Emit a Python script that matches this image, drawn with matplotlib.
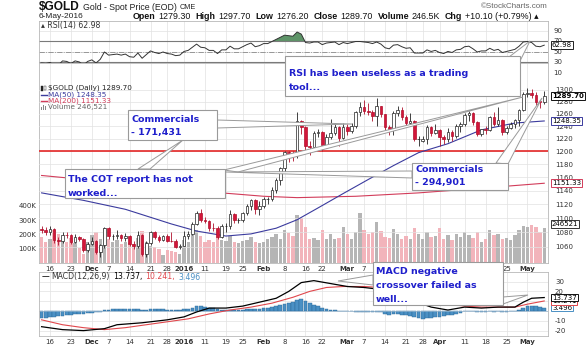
import matplotlib
matplotlib.use("Agg")
import matplotlib.pyplot as plt
from matplotlib.patches import Rectangle, Polygon
from matplotlib.lines import Line2D
from matplotlib.ticker import NullLocator
import numpy as np
import pandas as pd

# ---- data: $GOLD daily, 12-Nov-2015 .. 6-May-2016 ----
holidays = ["2015-11-26", "2015-12-25", "2016-01-01", "2016-01-18", "2016-02-15", "2016-03-25"]

opens = [1084.5, 1083.6, 1081.0, 1084.4, 1069.2, 1068.4, 1077.0, 1076.2, 1067.1, 1073.9, 1070.7, 1056.2,
         1064.6, 1068.0, 1053.4, 1061.9, 1085.6, 1074.6, 1075.2, 1076.0, 1071.6, 1075.5, 1063.9, 1061.7,
         1076.2, 1049.6, 1065.0, 1080.2, 1074.3, 1069.8, 1075.6, 1068.6, 1068.0, 1060.4,
         1061.1, 1075.0, 1078.3, 1091.7, 1108.1, 1097.9, 1096.3, 1086.5, 1085.7, 1073.4, 1088.9, 1089.0,
         1106.4, 1097.1, 1097.2, 1107.6, 1118.3, 1126.1, 1113.0,
         1117.5, 1128.2, 1128.3, 1141.1, 1155.9, 1173.6, 1198.8, 1197.4, 1193.6, 1247.9, 1239.2, 1208.9,
         1207.4, 1229.7, 1230.3, 1209.6, 1223.2, 1228.5, 1238.6, 1221.4,
         1238.0, 1231.5, 1241.0, 1262.2, 1270.7, 1265.4, 1263.5, 1256.4, 1272.5, 1259.5, 1238.6, 1233.5,
         1261.6, 1266.4, 1255.5, 1244.7, 1248.3, 1219.7, 1217.0, 1220.0, 1238.8, 1228.4,
         1233.5, 1222.4, 1218.8, 1230.8, 1224.8, 1240.1, 1243.6, 1258.4, 1261.7, 1246.4, 1227.4, 1236.0,
         1234.0, 1254.5, 1242.9, 1250.0, 1230.9, 1237.4, 1243.8, 1250.0, 1266.0,
         1293.5, 1294.5, 1290.8, 1281.0, 1279.3]
highs = [1089.0, 1088.0, 1089.5, 1086.0, 1073.5, 1081.0, 1080.0, 1078.0, 1077.5, 1075.5, 1072.0, 1066.5,
         1074.0, 1070.0, 1064.5, 1088.0, 1087.0, 1078.5, 1084.0, 1078.5, 1079.5, 1076.5, 1068.0, 1081.5,
         1077.5, 1068.0, 1082.5, 1081.5, 1077.0, 1077.0, 1078.0, 1080.0, 1071.5, 1064.5,
         1082.0, 1081.5, 1095.0, 1111.0, 1113.0, 1101.5, 1098.0, 1093.5, 1089.0, 1092.0, 1093.0, 1111.5,
         1107.5, 1101.0, 1109.5, 1121.0, 1128.0, 1127.5, 1124.5,
         1130.5, 1131.5, 1145.0, 1159.5, 1175.5, 1200.5, 1200.5, 1200.0, 1263.5, 1250.5, 1240.5, 1216.5,
         1232.5, 1236.0, 1231.5, 1228.0, 1251.0, 1243.5, 1241.0, 1245.0,
         1244.0, 1245.5, 1264.5, 1279.5, 1282.5, 1277.5, 1266.5, 1287.0, 1273.5, 1260.5, 1242.5, 1264.5,
         1273.5, 1271.0, 1257.5, 1261.0, 1250.0, 1223.5, 1225.0, 1242.0, 1240.0, 1243.5,
         1236.0, 1225.5, 1236.5, 1233.5, 1244.0, 1246.0, 1261.0, 1264.0, 1262.5, 1247.5, 1236.0, 1239.5,
         1256.5, 1262.5, 1270.5, 1251.5, 1240.0, 1246.0, 1251.5, 1268.5, 1296.0,
         1303.5, 1302.0, 1295.5, 1283.5, 1297.7]
lows = [1079.5, 1076.0, 1077.0, 1066.0, 1062.5, 1066.0, 1072.0, 1063.5, 1065.5, 1068.0, 1052.5, 1053.0,
        1062.5, 1050.5, 1046.5, 1059.0, 1071.0, 1069.5, 1071.0, 1067.5, 1068.5, 1061.5, 1057.5, 1059.0,
        1047.0, 1046.0, 1063.0, 1071.0, 1066.5, 1068.5, 1067.0, 1066.5, 1058.0, 1057.5,
        1060.5, 1071.0, 1076.5, 1090.0, 1095.5, 1093.5, 1082.5, 1081.5, 1071.5, 1072.0, 1080.5, 1085.5,
        1094.0, 1093.0, 1094.5, 1105.0, 1112.5, 1106.5, 1105.0,
        1114.5, 1121.0, 1124.5, 1136.5, 1148.5, 1167.0, 1183.0, 1185.0, 1190.0, 1227.5, 1199.5, 1195.0,
        1203.0, 1222.0, 1201.0, 1205.5, 1220.0, 1226.5, 1208.0, 1220.0,
        1225.5, 1228.5, 1237.5, 1257.0, 1259.0, 1258.5, 1247.5, 1240.5, 1254.0, 1233.5, 1226.5, 1225.5,
        1256.5, 1250.0, 1241.5, 1240.0, 1216.5, 1208.0, 1214.5, 1212.0, 1224.0, 1227.0,
        1208.5, 1211.5, 1214.0, 1215.5, 1221.5, 1231.0, 1239.5, 1247.5, 1242.0, 1224.0, 1223.5, 1228.0,
        1231.5, 1240.0, 1240.0, 1226.5, 1228.0, 1235.5, 1236.5, 1240.5, 1265.0,
        1288.5, 1286.0, 1274.0, 1270.0, 1276.2]
closes = [1083.6, 1081.0, 1084.4, 1069.2, 1068.4, 1077.0, 1076.2, 1067.1, 1073.9, 1070.7, 1056.2, 1064.6,
          1068.0, 1053.4, 1061.9, 1085.6, 1074.6, 1075.2, 1076.0, 1071.6, 1075.5, 1063.9, 1061.7, 1076.2,
          1049.6, 1065.0, 1080.2, 1074.3, 1069.8, 1075.6, 1068.6, 1068.0, 1060.4, 1061.1,
          1075.0, 1078.3, 1091.7, 1108.1, 1097.9, 1096.3, 1086.5, 1085.7, 1073.4, 1088.9, 1089.0, 1106.4,
          1097.1, 1097.2, 1107.6, 1118.3, 1126.1, 1113.0, 1117.5,
          1128.2, 1128.3, 1141.1, 1155.9, 1173.6, 1198.8, 1197.4, 1193.6, 1247.9, 1239.2, 1208.9, 1207.4,
          1229.7, 1230.3, 1209.6, 1223.2, 1228.5, 1238.6, 1221.4, 1238.0,
          1231.5, 1241.0, 1262.2, 1270.7, 1265.4, 1263.5, 1256.4, 1272.5, 1259.5, 1238.6, 1233.5, 1261.6,
          1266.4, 1255.5, 1244.7, 1248.3, 1219.7, 1220.0, 1220.0, 1238.8, 1228.4, 1233.5,
          1222.4, 1218.8, 1230.8, 1224.8, 1240.1, 1243.6, 1258.4, 1261.7, 1246.4, 1227.4, 1234.6, 1234.0,
          1254.5, 1242.9, 1250.0, 1230.9, 1237.4, 1243.8, 1250.0, 1266.0, 1293.5,
          1294.5, 1290.8, 1279.4, 1279.6, 1289.7]
volume_k = [185, 150, 170, 230, 205, 160, 145, 175, 140, 105, 60, 150,
            195, 215, 170, 245, 170, 150, 160, 135, 150, 140, 130, 175, 225, 150, 120, 110, 95, 55, 90, 85, 75, 60,
            160, 150, 195, 230, 190, 150, 160, 150, 185, 160, 155, 190, 150, 140, 155, 160, 180, 150, 140,
            150, 165, 185, 200, 170, 235, 210, 190, 340, 315, 255, 165, 175, 160, 230, 170, 200, 165, 175, 255,
            205, 165, 220, 350, 230, 200, 215, 290, 225, 180, 175, 240, 205, 165, 190, 170, 245, 200, 165, 215, 180, 190,
            245, 170, 195, 160, 205, 180, 220, 195, 175, 215, 150, 165, 230, 195, 205, 170, 175, 160, 195, 230, 260,
            250, 265, 250, 215, 246.5]
rsi = [29, 28, 30, 25, 25, 33, 32, 28, 33, 31, 25, 32,
       35, 29, 36, 50, 44, 45, 46, 44, 46, 41, 40, 48, 38, 45, 52, 49, 47, 50, 47, 46, 43, 44,
       51, 53, 59, 65, 59, 58, 53, 53, 47, 54, 54, 61, 56, 56, 60, 64, 67, 60, 62,
       66, 66, 70, 74, 78, 82, 81, 80, 88, 84, 68, 67, 69, 69, 64, 67, 68, 69, 64, 68,
       66, 68, 70, 70, 69, 68, 66, 69, 65, 58, 56, 63, 64, 60, 57, 58, 48, 48, 48, 54, 51, 53,
       49, 47, 51, 49, 54, 55, 60, 61, 56, 50, 52, 52, 57, 53, 55, 49, 51, 53, 55, 61, 69,
       70, 68, 61, 60, 62.98]
ma50_day = [0, 10, 20, 31, 37, 44, 50, 56, 61, 66, 72, 78, 84, 90, 97, 105, 113, 120]
ma50 = [1137, 1126, 1113, 1092, 1082, 1075, 1078, 1086, 1098, 1115, 1136, 1157, 1178, 1198, 1212, 1234, 1245, 1248.35]
ma200_day = [0, 10, 20, 30, 43, 53, 61, 75, 90, 105, 120]
ma200 = [1163, 1157, 1150, 1144, 1137, 1132, 1130, 1132, 1137, 1144, 1151.33]
macd_day = [0, 5, 10, 15, 18, 24, 30, 34, 37, 40, 44, 48, 52, 56, 59, 62, 65, 69, 73, 77, 81, 85, 89, 93,
            97, 101, 105, 109, 113, 115, 117, 120]
macd = [-16, -19, -20, -18, -14, -12, -9, -6, -1, 3, 3, 5, 9, 13, 20, 29, 31, 28, 25, 24, 22, 17, 10, 4,
        1, 4, 3, 4, 4, 9, 13, 13.737]
signal_day = [0, 5, 10, 15, 20, 25, 30, 35, 40, 45, 50, 55, 60, 64, 68, 72, 77, 81, 85, 89, 93, 97, 101,
              105, 109, 113, 116, 120]
signal = [-9, -14, -17, -19, -17, -14, -11, -8, -3, 1, 4, 8, 14, 20, 24, 25, 25, 24, 21, 16, 11, 7, 5,
          4, 4, 4, 7, 10.241]
hist = [-7, -7, -6.5, -6, -5.5, -5, -4.5, -4, -3.5, -3, -3,
        -2.5, -2, -1.5, -1, 1,
        1.5, 2, 2.5, 2.5, 2.5, 2, 2, 2, 1.5, 1.5, 2, 2, 2, 2, 1.5, 1.5, 1, 1.5,
        2, 2.5, 3.5, 5, 5, 4.5, 3.5, 3, 2,
        1.5, 1, 1.5, 1, 1, 1.5, 2, 2.5, 2, 2,
        3, 3, 4, 5, 6, 7, 8, 9, 11, 12,
        10, 8, 6, 5, 3, 2, 1.5, 1, 0, 0,
        0, -0.5, -1, -1, -1, -1.5, -1.5, -1, -1.5,
        -3, -4, -3.5, -3.5, -4, -4.5, -5, -6, -7, -8, -7.5, -7, -6.5, -6,
        -5.5, -4.5, -4, -3, -2, -0.5, 0, -0.5, -1, -1, -1,
        -0.5, -1, -0.5, -1, -1, -0.5, -0.5,
        1, 3.5, 5, 5.5, 5, 4, 3.496]

price_ticks = [1060, 1080, 1100, 1120, 1140, 1160, 1180, 1200, 1220, 1240, 1260, 1280, 1300]
rsi_ticks = [10, 30, 50, 70, 90]
macd_ticks = [-20, -10, 0, 10, 20, 30]
macd_tick_shown = ["-20", "-10", "", "", "20", "30"]
vol_ticks = [100, 200, 300, 400]
tick_dates = ["2015-11-16", "2015-11-23", "2015-12-01", "2015-12-07", "2015-12-14", "2015-12-21",
              "2015-12-28", "2016-01-04", "2016-01-11", "2016-01-19", "2016-01-25", "2016-02-01",
              "2016-02-08", "2016-02-16", "2016-02-22", "2016-03-01", "2016-03-07", "2016-03-14",
              "2016-03-21", "2016-03-28", "2016-04-01", "2016-04-11", "2016-04-18", "2016-04-25",
              "2016-05-02"]
tick_labels = ["16", "23", "Dec", "7", "14", "21", "28", "2016", "11", "19", "25", "Feb", "8", "16", "22",
               "Mar", "7", "14", "21", "28", "Apr", "11", "18", "25", "May"]
# upper date row: these sit under the MACD callout box in the reference
covered_dates = {"2016-03-14", "2016-03-21", "2016-03-28", "2016-04-01", "2016-04-11", "2016-04-18"}
bold_labels = {"Dec", "2016", "Feb", "Mar", "Apr", "May"}

# ---- setup ----
W, H = 587, 348
dates = pd.bdate_range("2015-11-12", "2016-05-06")
dates = dates[~dates.isin(pd.to_datetime(holidays))]
x = np.arange(len(dates))
tick_x = [dates.get_loc(pd.Timestamp(d)) for d in tick_dates]
top_labels = ["" if d in covered_dates else s for d, s in zip(tick_dates, tick_labels)]

o = np.array(opens); h = np.array(highs); l = np.array(lows); c = np.array(closes)
up = c >= o
face = np.where(up, "white", "#d3163a")
edge = np.where(up, "#222222", "#b0102c")

GRID = "#e2e2e2"
SPINE = "#b8b8b8"
LBL = "#333333"
FS = 5.0
SANS = ["Liberation Sans", "DejaVu Sans"]

fig = plt.figure(figsize=(W / 100, H / 100), dpi=100)
renderer = fig.canvas.get_renderer()


def rect(l_, t_, r_, b_):
    return [l_ / W, 1 - b_ / H, (r_ - l_) / W, (b_ - t_) / H]


def fxy(px, py):
    return px / W, 1 - py / H


XL = (-0.62, 120.9)


def style(ax):
    for s in ax.spines.values():
        s.set_color(SPINE)
        s.set_linewidth(0.6)
    ax.set_xlim(*XL)
    ax.set_xticks(tick_x)
    ax.tick_params(length=0, labelsize=FS, colors=LBL, pad=2)
    ax.grid(True, color=GRID, lw=0.5)
    ax.set_axisbelow(True)


def bold_months(ax):
    for t in ax.get_xticklabels():
        if t.get_text() in bold_labels:
            t.set_fontweight("bold")


def right_labels(ax, vals, texts):
    for v, s in zip(vals, texts):
        ax.text(1 + 5 / 509, v, s, transform=ax.get_yaxis_transform(), fontsize=FS, color=LBL,
                va="center", ha="left", clip_on=False)


def tag(ax, v, s, color, bold=False):
    ax.text(1 + 4 / 509, v, s, transform=ax.get_yaxis_transform(), fontsize=FS, color="black",
            va="center", ha="left", clip_on=False, zorder=10, fontweight="bold" if bold else "normal",
            bbox=dict(boxstyle="square,pad=0.12", fc="white", ec=color, lw=0.7))


# ---- RSI panel ----
ax_rsi = fig.add_axes(rect(39, 21, 548, 63))
style(ax_rsi)
ax_rsi.set_ylim(29, 109)
ax_rsi.set_yticks([30, 50, 70, 90])
ax_rsi.set_yticklabels([])
ax_rsi.set_xticklabels([])
r = np.array(rsi, dtype=float)
ax_rsi.fill_between(x, r, 70, where=r >= 70, interpolate=True, color="#5e9468", lw=0)
ax_rsi.fill_between(x, r, 30, where=r <= 30, interpolate=True, color="#8e5a5a", lw=0)
ax_rsi.axhline(70, color="#7a7a7a", lw=0.8)
ax_rsi.axhline(30, color="#7a7a7a", lw=0.8)
ax_rsi.axhline(50, color="#8a8a8a", lw=0.6, ls="-.")
ax_rsi.plot(x, r, color="#333333", lw=0.7)
right_labels(ax_rsi, rsi_ticks, [str(v) for v in rsi_ticks])
tag(ax_rsi, rsi[-1], "62.98", "#222222")
ax_rsi.text(2 / 509, 0.9, "\u25b4 RSI(14) 62.98", transform=ax_rsi.transAxes, fontsize=5.6,
            color="#333333", va="center", ha="left")

# ---- price + volume panel ----
PR = rect(39, 63, 548, 263)
ax_vol = fig.add_axes(PR)
style(ax_vol)
ax_vol.set_ylim(0, 1403)
ax_vol.set_yticks(vol_ticks)
ax_vol.set_yticklabels([f"{v}K" for v in vol_ticks])
ax_vol.grid(False, axis="y")
ax_vol.set_xticklabels(top_labels)
bold_months(ax_vol)
ax_vol.bar(x, volume_k, width=0.8, color=np.where(up, "#b5b5b5", "#f2b4bb"), lw=0)

ax_p = fig.add_axes(PR, sharex=ax_vol)
ax_p.patch.set_visible(False)
for s in ax_p.spines.values():
    s.set_visible(False)
ax_p.set_yscale("log")
ax_p.set_ylim(1038, 1346)
ax_p.yaxis.tick_right()
ax_p.set_yticks(price_ticks)
ax_p.set_yticklabels([str(v) for v in price_ticks])
ax_p.yaxis.set_minor_locator(NullLocator())
ax_p.tick_params(length=0, labelsize=FS, colors=LBL, pad=5, labelbottom=False)
ax_p.grid(True, axis="y", color=GRID, lw=0.5)
ax_p.set_axisbelow(True)
ax_p.axhline(1200, color="#e32626", lw=1.2, zorder=2)
ax_p.plot(ma200_day, ma200, color="#d23c5a", lw=0.8, zorder=2)
ax_p.plot(ma50_day, ma50, color="#3b3b9e", lw=0.8, zorder=2)
ax_p.vlines(x, l, h, colors=edge, lw=0.6, zorder=3)
ax_p.bar(x, np.abs(c - o), bottom=np.minimum(o, c), width=0.62, color=face, edgecolor=edge,
         linewidth=0.5, zorder=4)
tag(ax_p, closes[-1], "1289.70", "#111111", bold=True)
tag(ax_p, ma50[-1], "1248.35", "#3b3b9e")
tag(ax_p, ma200[-1], "1151.33", "#d23c5a")
tag(ax_vol, 275, "246521", "#333333")

# legend lines in price panel
LFS = 5.2
fig.add_artist(Rectangle(fxy(41, 90.5), 2 / W, 5 / H, fc="#222222", ec="#222222", lw=0.3))
fig.add_artist(Rectangle(fxy(44, 89.5), 2 / W, 4 / H, fc="white", ec="#222222", lw=0.3))
fig.text(*fxy(48, 88), "$GOLD (Daily) 1289.70", fontsize=LFS, color="#222222", va="center")
fig.add_artist(Line2D([41 / W, 47 / W], [1 - 94.5 / H] * 2, color="#3b3b9e", lw=1))
fig.text(*fxy(48, 94.5), "MA(50) 1248.35", fontsize=LFS, color="#3b3b9e", va="center")
fig.add_artist(Line2D([41 / W, 47 / W], [1 - 101 / H] * 2, color="#d23c5a", lw=1))
fig.text(*fxy(48, 101), "MA(200) 1151.33", fontsize=LFS, color="#d23c5a", va="center")
for k, hh in enumerate([3, 5, 4]):
    fig.add_artist(Rectangle(fxy(41 + 2 * k, 109.5), 1.4 / W, hh / H, fc="#888888", lw=0))
fig.text(*fxy(48, 107.5), "Volume 246,521", fontsize=LFS, color="#666666", va="center")

# ---- MACD panel ----
ax_m = fig.add_axes(rect(39, 272, 548, 336))
style(ax_m)
ax_m.set_ylim(-25.5, 39.8)
ax_m.yaxis.tick_right()
ax_m.set_yticks(macd_ticks)
ax_m.set_yticklabels(macd_tick_shown)
ax_m.tick_params(axis="y", pad=5)
ax_m.set_xticklabels(tick_labels)
bold_months(ax_m)
ax_m.bar(x, hist, width=0.9, color="#4a90c4", edgecolor="#2a6796", lw=0.3, zorder=2)
ax_m.axhline(0, color="#9ab8d0", lw=0.5, zorder=2)
ax_m.plot(signal_day, signal, color="#e0474c", lw=0.8, zorder=3)
ax_m.plot(macd_day, macd, color="black", lw=0.9, zorder=4)
tag(ax_m, hist[-1], "3.496", "#4a90c4")
tag(ax_m, signal[-1], "10.241", "#e0474c")
tag(ax_m, macd[-1], "13.737", "#111111")


def text_run(px, py, parts, family=None):
    # parts: (text, colour, bold, gap after in px, font size)
    for s, col, bold, gap, size in parts:
        t = fig.text(*fxy(px, py), s, fontsize=size, color=col, va="center", ha="left",
                     family=family or ["DejaVu Sans"], fontweight="bold" if bold else "normal")
        px += t.get_window_extent(renderer).width + gap
    return px


text_run(42, 277, [("\u2014", "black", False, 2, 5.6), ("MACD(12,26,9)", "#333333", False, 3, 5.6),
                   ("13.737,", "black", False, 3, 5.6), ("10.241,", "#e0474c", False, 3, 5.6),
                   ("3.496", "#4a90c4", False, 0, 5.6)])

# ---- header ----
text_run(39, 7.5, [("$GOLD", "#111111", True, 3, 8.6), ("Gold - Spot Price (EOD)", "#222222", False, 3, 6.3),
                   ("CME", "#222222", False, 0, 5.2)], family=SANS)
fig.text(*fxy(39, 16.5), "6-May-2016", fontsize=6.0, color="#222222", va="center", family=SANS)
hdr = [("Open", True), ("1279.30", False), ("High", True), ("1297.70", False), ("Low", True),
       ("1276.20", False), ("Close", True), ("1289.70", False), ("Volume", True), ("246.5K", False),
       ("Chg", True), ("+10.10 (+0.79%) \u25b4", False)]
text_run(133, 16.5, [(s, "#111111", b, 2.5 if b else 5, 6.4) for s, b in hdr], family=SANS)
fig.text(*fxy(548, 6), "\u00a9StockCharts.com", fontsize=5.8, color="#666666", va="center", ha="right",
         family=SANS)

# ---- callouts ----
BLUE = "#1f1fcc"
EDGE = "#9a9a9a"


def wedge(pts):
    fig.add_artist(Polygon([fxy(*p) for p in pts], closed=True, fc="white", ec=EDGE, lw=0.7, zorder=4))


def box(l_, t_, r_, b_, lines, ys, tx):
    fig.add_artist(Rectangle(fxy(l_, b_), (r_ - l_) / W, (b_ - t_) / H, fc="white", ec=EDGE, lw=0.8,
                             zorder=5))
    for s, yy in zip(lines, ys):
        fig.text(*fxy(tx, yy), s, fontsize=6.8, color=BLUE, fontweight="bold", va="center",
                 ha="left", zorder=6)


wedge([(509, 57), (530, 41), (520, 61)])
wedge([(224, 170), (523, 97), (238, 172)])
wedge([(412, 171), (225, 172), (412, 178)])
wedge([(217, 120), (352, 124), (217, 128)])
wedge([(138, 169), (183, 140), (150, 169)])
wedge([(496, 163), (542, 98), (508, 164)])
wedge([(373, 275), (338, 281), (373, 285)])
wedge([(503, 297), (528, 295), (503, 304)])

box(285, 56, 520, 96, ["RSI has been useless as a trading", "tool..."], [73, 87], 289)
box(128, 110, 217, 140, ["Commercials", "- 171,431"], [119, 133], 131)
box(65, 169, 225, 198, ["The COT report has not", "worked..."], [180, 193], 68)
box(412, 163, 508, 190, ["Commercials", "- 294,901"], [169, 183], 415)
box(373, 262, 503, 305, ["MACD negative", "crossover failed as", "well..."], [272, 286, 299], 376)

fig.savefig("out.png", dpi=100)
